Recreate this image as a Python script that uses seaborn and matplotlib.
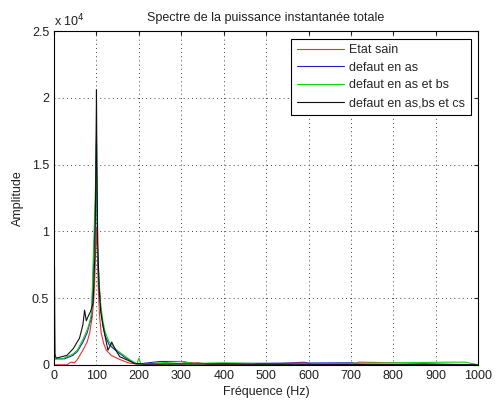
import numpy as np
import pandas as pd
import matplotlib
matplotlib.use("Agg")
import matplotlib.pyplot as plt
import seaborn as sns
from matplotlib.ticker import FuncFormatter

title = "Spectre de la puissance instantanée totale"
xlabel = "Fréquence (Hz)"
ylabel = "Amplitude"
labels = ["Etat sain", "defaut en as", "defaut en as et bs", "defaut en as,bs et cs"]

# Etat sain (red)
f_sain = [0, 10, 30, 40, 48, 55, 68, 78, 84, 90, 94, 96, 98, 100, 102, 104, 107, 111, 117, 123,
          135, 155, 175, 195, 250, 340, 360, 500, 590, 610, 700, 720, 800, 1000]
a_sain = [0, 0, 0, 200, 150, 400, 1100, 1700, 2400, 3600, 5000, 6500, 8500, 10300, 8500, 6000,
          3800, 2400, 1600, 1100, 700, 400, 150, 50, 50, 150, 50, 30, 200, 30, 30, 200, 150, 0]

# defaut en as (blue)
f_as = [0, 1, 3, 10, 25, 44, 55, 68, 78, 84, 88, 91, 94, 97, 99, 100, 101, 103, 106, 110, 115,
        120, 130, 148, 165, 178, 195, 250, 300, 330, 400, 690, 705, 720, 1000]
a_as = [0, 400, 450, 450, 450, 700, 1000, 1700, 2400, 3100, 3500, 5500, 8500, 11000, 14000,
        16600, 12000, 8000, 6000, 4200, 3000, 2200, 1500, 1000, 600, 350, 50, 250, 250, 100, 100, 150, 150, 30, 0]

# defaut en as et bs (green)
f_asbs = [0, 1, 2, 5, 20, 44, 55, 68, 78, 84, 88, 91, 94, 97, 99, 100, 101, 103, 106, 110, 115,
          120, 130, 148, 165, 178, 195, 200, 205, 300, 330, 400, 470, 480, 930, 970, 1000]
a_asbs = [500, 2700, 500, 450, 450, 800, 1100, 1900, 2600, 3200, 3800, 6400, 9500, 12500, 15500,
          17200, 13000, 8500, 6300, 4500, 3300, 2500, 1700, 1100, 700, 400, 50, 500, 50, 250, 100, 150, 100, 20, 200, 200, 0]

# defaut en as,bs et cs (black)
f_asbscs = [0, 1, 2, 5, 30, 45, 60, 68, 72, 76, 80, 86, 92, 96, 98, 100, 101, 103, 106, 110, 115,
            120, 127, 132, 136, 142, 155, 170, 190, 200, 210, 400, 1000]
a_asbscs = [500, 7300, 800, 500, 700, 1200, 2000, 3000, 4100, 3300, 3600, 4000, 4600, 8000, 13000,
            20600, 15000, 9000, 6000, 4000, 3000, 2200, 1100, 1400, 1700, 1300, 600, 400, 100, 100, 50, 50, 0]

colors = ["#e83030", "#2020c8", "#10d010", "#101010"]

frames = []
for lab, f, a in zip(labels, [f_sain, f_as, f_asbs, f_asbscs], [a_sain, a_as, a_asbs, a_asbscs]):
    frames.append(pd.DataFrame({"f": f, "a": a, "s": lab}))
df = pd.concat(frames, ignore_index=True)

sns.set_style("white")
plt.rcParams["font.family"] = ["Liberation Sans", "DejaVu Sans"]
plt.rcParams["font.size"] = 9

fig = plt.figure(figsize=(4.96, 4.04), dpi=100)
ax = fig.add_axes([0.109, 0.097, 0.855, 0.826])
sns.lineplot(data=df, x="f", y="a", hue="s", palette=dict(zip(labels, colors)),
             hue_order=labels, linewidth=0.8, ax=ax, sort=False, estimator=None)

ax.set_xlim(0, 1000)
ax.set_ylim(0, 25000)
ax.set_xticks(np.arange(0, 1001, 100))
ax.set_yticks(np.arange(0, 25001, 5000))
ax.yaxis.set_major_formatter(FuncFormatter(lambda v, p: "%g" % (v / 1e4)))
ax.text(0.0, 1.005, r"x 10$^4$", transform=ax.transAxes, fontsize=9, ha="left", va="bottom",
        color="#202020")
ax.grid(True, color="black", linestyle=(0, (1, 4)), linewidth=0.6)
ax.tick_params(direction="in", top=True, right=True, length=3, labelsize=9, colors="#202020")
for sp in ax.spines.values():
    sp.set_color("black")
    sp.set_linewidth(0.8)
ax.set_title(title, fontsize=9, pad=7, color="#202020")
ax.set_xlabel(xlabel, fontsize=9, labelpad=3, color="#202020")
ax.set_ylabel(ylabel, fontsize=9, labelpad=6, color="#202020")

leg = ax.legend(loc="upper right", fontsize=9, frameon=True, fancybox=False,
                edgecolor="black", framealpha=1, borderaxespad=0.6, handlelength=3.8,
                labelspacing=0.45, handletextpad=0.4, borderpad=0.45)
leg.get_frame().set_linewidth(0.8)

fig.savefig("out.png", dpi=100)
